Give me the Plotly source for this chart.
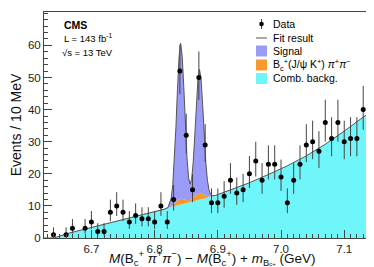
import math
import plotly.graph_objects as go

# ---------------- data ----------------
data_x = [6.64, 6.66, 6.67, 6.69, 6.70, 6.71, 6.72, 6.73, 6.74, 6.75, 6.76, 6.77, 6.78, 6.79,
          6.80, 6.81, 6.82, 6.83, 6.84, 6.85, 6.86, 6.87, 6.88, 6.89, 6.90, 6.91, 6.92, 6.93,
          6.94, 6.95, 6.96, 6.97, 6.98, 6.99, 7.00, 7.01, 7.02, 7.03, 7.04, 7.05, 7.06, 7.07,
          7.08, 7.09, 7.10, 7.11, 7.12, 7.13, 7.14, 7.15]
data_y = [1, 1, 3, 3, 5, 2, 2, 8, 10, 8, 5, 7, 6, 6,
          5, 10, 5, 12, 52, 32, 15, 50, 29, 11, 11, 13, 18, 14,
          15, 20, 24, 18, 23, 23, 19, 11, 18, 23, 29, 30, 27, 36,
          31, 36, 30, 31, 31, 40, 38, 39]

fit_x = [6.625, 6.641, 6.66, 6.68, 6.70, 6.72, 6.74, 6.76, 6.78, 6.80, 6.8162, 6.8212,
         6.8262, 6.8287, 6.8312, 6.8337, 6.8362, 6.8387, 6.8412, 6.8437, 6.8462, 6.8487,
         6.8512, 6.8537, 6.8561, 6.8585, 6.861, 6.8635, 6.866, 6.8685, 6.871, 6.8735,
         6.876, 6.8785, 6.881, 6.8835, 6.886, 6.8885, 6.891, 6.896, 6.92, 6.95, 6.98,
         7.01, 7.04, 7.07, 7.10, 7.13, 7.155]
comb_bkg = [0, 0, 1.3, 2.3, 3.3, 4.3, 5.3, 6.3, 7.3, 8.25, 9.0, 9.25,
            9.5, 9.6, 9.75, 9.85, 10.0, 10.1, 10.25, 10.35, 10.5, 10.6,
            10.75, 10.85, 11.0, 11.1, 11.25, 11.4, 11.5, 11.65, 11.8, 11.95,
            12.1, 12.2, 12.35, 12.5, 12.65, 12.8, 12.95, 13.25, 14.9, 17.2, 19.8,
            22.5, 25.6, 29.2, 33.3, 37.6, 41.3]
refl_bkg = [0, 0, 0, 0, 0, 0, 0, 0, 0, 0, 0, 0,
            0.3, 0.7, 1.1, 1.5, 1.8, 2.0, 2.0, 1.9, 1.6, 1.3,
            1.0, 0.9, 0.9, 1.1, 1.4, 1.7, 2.0, 2.1, 2.1, 1.9,
            1.6, 1.2, 0.8, 0.5, 0.25, 0.1, 0, 0, 0, 0, 0,
            0, 0, 0, 0, 0, 0]
signal = [0, 0, 0, 0, 0, 0, 0, 0, 0, 0, 0, 0.26,
          2.6, 6.3, 13.1, 23.1, 34.7, 44.3, 48.4, 44.3, 34.7, 23.2,
          13.3, 7.1, 4.9, 6.0, 10.8, 18.7, 27.9, 35.6, 38.6, 35.6,
          27.9, 18.6, 10.5, 5.1, 2.1, 0.7, 0.2, 0, 0, 0, 0,
          0, 0, 0, 0, 0, 0]

x_ticks = [6.7, 6.8, 6.9, 7.0, 7.1]
y_ticks = [0, 10, 20, 30, 40, 50, 60]

# ---------------- helpers ----------------
ALPHA = (1 - 0.682689) / 2


def pois_cdf(k, mu):
    s, term = 0.0, math.exp(-mu)
    for i in range(k + 1):
        if i > 0:
            term *= mu / i
        s += term
    return s


def solve(f, lo, hi):
    for _ in range(80):
        mid = 0.5 * (lo + hi)
        if f(mid) > 0:
            lo = mid
        else:
            hi = mid
    return 0.5 * (lo + hi)


err_up, err_dn = [], []
for n in data_y:
    up = solve(lambda m: pois_cdf(n, m) - ALPHA, n, n + 10 * math.sqrt(n + 1) + 10)
    dn = 0.0 if n == 0 else solve(lambda m: pois_cdf(n - 1, m) - (1 - ALPHA), 0, n)
    err_up.append(up - n)
    err_dn.append(n - dn)

lvl1 = comb_bkg
lvl2 = [a + b for a, b in zip(comb_bkg, refl_bkg)]
lvl3 = [a + b + c for a, b, c in zip(comb_bkg, refl_bkg, signal)]

C_CYAN = "#6EF6FA"
C_ORANGE = "#F79A2E"
C_BLUE = "#9A9AF8"
C_LINE = "#555555"
FONT = "Liberation Sans, Arial, sans-serif"

# plot area in pixels
W, H = 374, 267
L, R, T, B = 36, 371, 4, 230


def px(x):
    return (x - L) / (R - L)


def py(y):
    return (B - y) / (B - T)


fig = go.Figure()
fig.add_trace(go.Scatter(x=fit_x, y=lvl1, mode="lines", line=dict(width=0, color=C_CYAN),
                         fill="tozeroy", fillcolor=C_CYAN, hoverinfo="skip"))
fig.add_trace(go.Scatter(x=fit_x, y=lvl2, mode="lines", line=dict(width=0, color=C_ORANGE),
                         fill="tonexty", fillcolor=C_ORANGE, hoverinfo="skip"))
fig.add_trace(go.Scatter(x=fit_x, y=lvl3, mode="lines", line=dict(width=0, color=C_BLUE),
                         fill="tonexty", fillcolor=C_BLUE, hoverinfo="skip"))
fig.add_trace(go.Scatter(x=fit_x, y=lvl3, mode="lines", line=dict(width=1, color=C_LINE),
                         hoverinfo="skip"))
fig.add_trace(go.Scatter(x=data_x, y=data_y, mode="markers",
                         marker=dict(size=5, color="black"),
                         error_y=dict(type="data", array=err_up, arrayminus=err_dn,
                                      symmetric=False, thickness=1, width=0, color="#444444")))

axis_common = dict(showgrid=False, zeroline=False, showline=True, linecolor="#444444",
                   linewidth=1, mirror=True, ticks="inside", tickcolor="#444444",
                   tickfont=dict(family=FONT, size=11.5, color="#222"))
fig.update_xaxes(range=[6.625, 7.155], tickvals=x_ticks, ticklen=8,
                 ticktext=[f"{v:.1f}" for v in x_ticks],
                 minor=dict(dtick=0.01, ticklen=4, ticks="inside", tickcolor="#444444",
                            tick0=6.7),
                 **axis_common)
fig.update_yaxes(range=[0, 70.4], tickvals=y_ticks, ticklen=8,
                 minor=dict(dtick=2, ticklen=4, ticks="inside", tickcolor="#444444"),
                 title=dict(text="Events / 10 MeV", font=dict(family=FONT, size=14, color="#111"),
                            standoff=5),
                 **axis_common)

shapes = []
annotations = []

# x-axis title drawn as annotation
x_title = ("<i>M</i>(B<sub>c</sub><sup>+</sup> <i>π</i><sup>+</sup><i>π</i><sup>−</sup>) − "
           "<i>M</i>(B<sub>c</sub><sup>+</sup>) + <i>m</i><sub>B<span style='font-size:6px'>c</span>"
           "<span style='font-size:6px'>+</span></sub> (GeV)")
annotations.append(dict(x=px(204), y=py(249.5), xref="paper", yref="paper", xanchor="center",
                        yanchor="middle", showarrow=False, text=x_title,
                        font=dict(family=FONT, size=13.5, color="#111")))

# CMS labels
annotations.append(dict(x=px(54), y=py(17), xref="paper", yref="paper", xanchor="left",
                        yanchor="middle", showarrow=False, text="<b>CMS</b>",
                        font=dict(family=FONT, size=10.5, color="black")))
annotations.append(dict(x=px(54), y=py(30), xref="paper", yref="paper", xanchor="left",
                        yanchor="middle", showarrow=False, text="L = 143 fb<sup>-1</sup>",
                        font=dict(family=FONT, size=9.5, color="black")))
annotations.append(dict(x=px(52), y=py(44), xref="paper", yref="paper", xanchor="left",
                        yanchor="middle", showarrow=False, text="√s = 13 TeV",
                        font=dict(family=FONT, size=9.5, color="black")))

# legend (drawn by hand)
lx0, lx1, ltx = 248, 259, 263
shapes.append(dict(type="line", xref="paper", yref="paper", x0=px(253.5), x1=px(253.5),
                   y0=py(11), y1=py(21), line=dict(color="#444", width=1)))
shapes.append(dict(type="circle", xref="paper", yref="paper", x0=px(251.2), x1=px(255.8),
                   y0=py(13.7), y1=py(18.3), fillcolor="black", line=dict(color="black", width=0)))
shapes.append(dict(type="line", xref="paper", yref="paper", x0=px(lx0), x1=px(lx1),
                   y0=py(30), y1=py(30), line=dict(color=C_LINE, width=1)))
for (yc, col) in [(43, C_BLUE), (57, C_ORANGE), (70.5, C_CYAN)]:
    shapes.append(dict(type="rect", xref="paper", yref="paper", x0=px(lx0), x1=px(lx1),
                       y0=py(yc - 5.5), y1=py(yc + 5.5), fillcolor=col, line=dict(width=0)))
leg_texts = [(16, "Data"), (30, "Fit result"), (43, "Signal"),
             (57, "B<sub>c</sub><sup>+</sup>(J/ψ K<sup>+</sup>) <i>π</i><sup>+</sup><i>π</i><sup>−</sup>"),
             (70.5, "Comb. backg.")]
for yc, t in leg_texts:
    annotations.append(dict(x=px(ltx), y=py(yc), xref="paper", yref="paper", xanchor="left",
                            yanchor="middle", showarrow=False, text=t,
                            font=dict(family=FONT, size=10.5, color="black")))

fig.update_layout(width=W, height=H, margin=dict(l=L, r=W - R, t=T, b=H - B),
                  paper_bgcolor="white", plot_bgcolor="white", showlegend=False,
                  shapes=shapes, annotations=annotations,
                  font=dict(family=FONT))

fig.write_html("out.html")
